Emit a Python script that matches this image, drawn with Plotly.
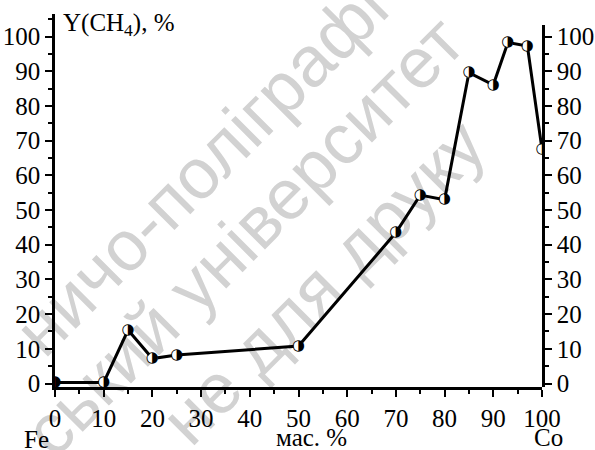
import plotly.graph_objects as go

# Composition (mass % Co in Fe–Co) and methane yield
co_mass_pct = [0, 10, 15, 20, 25, 50, 70, 75, 80, 85, 90, 93, 97, 100]
ch4_yield = [0.3, 0.3, 15.4, 7.2, 8.2, 10.8, 43.5, 54.3, 53.0, 89.6, 86.1, 98.3, 97.3, 67.5]

x_ticks = [0, 10, 20, 30, 40, 50, 60, 70, 80, 90, 100]
y_ticks = [0, 10, 20, 30, 40, 50, 60, 70, 80, 90, 100]

W, H = 595, 450
ML, MR, MT, MB = 55, 53, 14, 63
PW, PH = W - ML - MR, H - MT - MB

Y_MIN, Y_MAX = -1.0, 106.5
Y2_MAX = 103.3


def paper(px, py):
    return (px - ML) / PW, (H - MB - py) / PH


SERIF = "Liberation Serif"
INK = "#000000"

fig = go.Figure()

fig.add_trace(go.Scatter(
    x=co_mass_pct, y=ch4_yield,
    mode="lines+markers+text",
    line=dict(color=INK, width=3),
    marker=dict(symbol="circle", size=10, color="white", line=dict(width=0)),
    text=["◑"] * len(co_mass_pct),
    textposition="middle center",
    textfont=dict(family="DejaVu Sans", size=15, color=INK),
    cliponaxis=True,
    showlegend=False,
    hoverinfo="x+y",
))

# empty trace that carries the right-hand axis
fig.add_trace(go.Scatter(x=[None], y=[None], xaxis="x", yaxis="y2",
                         mode="lines", showlegend=False, hoverinfo="skip"))

axis_common = dict(
    showgrid=False, zeroline=False, showline=True, automargin=False,
    linecolor=INK, linewidth=2.5,
    ticks="outside", ticklen=7, tickwidth=2, tickcolor=INK,
    tickfont=dict(family=SERIF, size=25, color=INK),
)
minor_common = dict(tick0=0, dtick=5, ticks="outside", ticklen=4, tickwidth=2, tickcolor=INK)

fig.update_layout(
    template="none",
    width=W, height=H,
    font=dict(family=SERIF, size=25, color=INK),
    margin=dict(l=ML, r=MR, t=MT, b=MB, pad=0, autoexpand=False),
    paper_bgcolor="white", plot_bgcolor="rgba(0,0,0,0)",
    xaxis=dict(
        range=[0, 100], tickmode="array", tickvals=x_ticks,
        ticktext=[str(v) for v in x_ticks], minor=minor_common, **axis_common,
    ),
    yaxis=dict(
        range=[Y_MIN, Y_MAX], tickmode="array", tickvals=y_ticks,
        ticktext=[str(v) for v in y_ticks], minor=minor_common, **axis_common,
    ),
    yaxis2=dict(
        anchor="x", side="right",
        domain=[0, (Y2_MAX - Y_MIN) / (Y_MAX - Y_MIN)],
        range=[Y_MIN, Y2_MAX], tickmode="array", tickvals=y_ticks,
        ticktext=[str(v) for v in y_ticks], minor=minor_common, **axis_common,
    ),
)

# faint diagonal watermark lines, drawn beneath the data
WM = "#d2d2d2"
watermark = [
    ("ничо-поліграфі", 196, 164),
    ("ський університет", 239, 231),
    ("не для друку", 318, 277),
]
for txt, cx, cy in watermark:
    x0, y0 = paper(cx - 40, cy + 40)
    x1, y1 = paper(cx + 40, cy - 40)
    fig.add_shape(
        type="line", xref="paper", yref="paper",
        x0=x0, y0=y0, x1=x1, y1=y1, layer="below",
        line=dict(color="rgba(0,0,0,0)", width=0),
        label=dict(text=txt, textangle=-45, textposition="middle",
                   xanchor="center", yanchor="middle", padding=0,
                   font=dict(family="Liberation Sans", size=71, color=WM)),
    )

labels = [
    ("Y(CH<sub>4</sub>), %", 61, 24, "left"),
    ("мас. %", 311, 437, "center"),
    ("Fe", 36, 439, "center"),
    ("Co", 548, 437, "center"),
]
for txt, px, py, xa in labels:
    ax, ay = paper(px, py)
    fig.add_annotation(
        text=txt, xref="paper", yref="paper", x=ax, y=ay,
        xanchor=xa, yanchor="middle", showarrow=False,
        font=dict(family=SERIF, size=25, color=INK),
    )

fig.write_html("out.html")
